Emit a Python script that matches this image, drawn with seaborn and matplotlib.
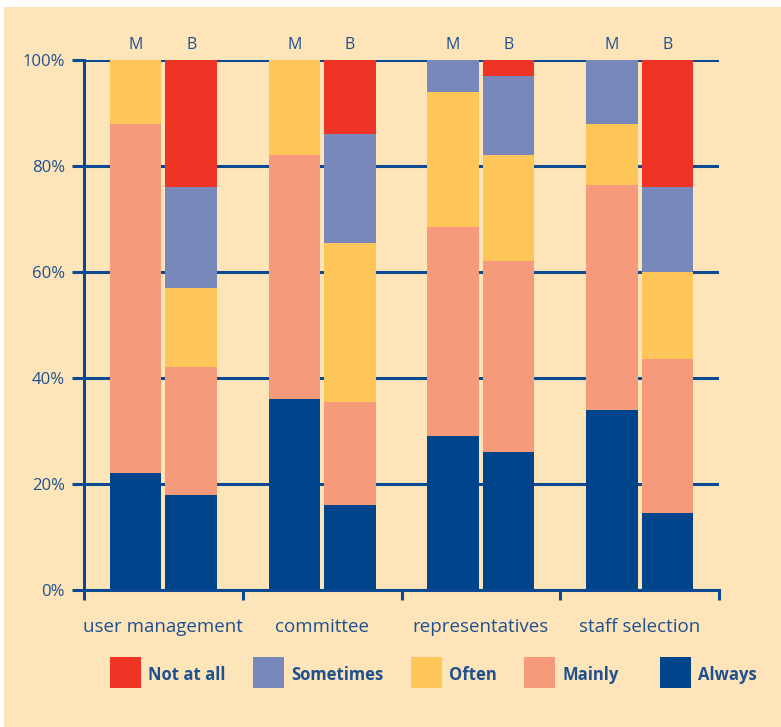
import numpy as np
import pandas as pd
import seaborn as sns
import matplotlib.pyplot as plt
from matplotlib.patches import Rectangle

# data (percent of respondents)
groups = ["user management", "committee", "representatives", "staff selection"]
measures = ["M", "B"]
categories = ["Always", "Mainly", "Often", "Sometimes", "Not at all"]

# one value per bar, order: (group, measure) -> um M, um B, com M, com B, ...
always = [22, 18, 36, 16, 29, 26, 34, 14.5]
mainly = [66, 24, 46, 19.5, 39.5, 36, 42.5, 29]
often = [12, 15, 18, 30, 25.5, 20, 11.5, 16.5]
sometimes = [0, 19, 0, 20.5, 6, 15, 12, 16]
not_at_all = [0, 24, 0, 14, 0, 3, 0, 24]

colors = {
    "Always": "#00458b",
    "Mainly": "#f59b7c",
    "Often": "#fec659",
    "Sometimes": "#7888ba",
    "Not at all": "#ef3325",
}
navy = "#0b4a92"
text_col = "#1f5090"
beige = "#fde5b9"

sns.set_style("white")
plt.rcParams["font.family"] = ["Open Sans", "DejaVu Sans"]

rows = []
for i, g in enumerate(groups):
    for j, m in enumerate(measures):
        k = i * 2 + j
        rows.append({"group": g, "measure": m,
                     "Always": always[k], "Mainly": mainly[k], "Often": often[k],
                     "Sometimes": sometimes[k], "Not at all": not_at_all[k]})
df = pd.DataFrame(rows)
# cumulative tops for stacking
cum = df[categories].cumsum(axis=1)
for c in categories:
    df["top_" + c] = cum[c]

fig = plt.figure(figsize=(7.81, 7.27), dpi=100)
fig.patch.set_facecolor("white")
fig.patches.append(Rectangle((4 / 781, 0), 1, 720 / 727, transform=fig.transFigure,
                             facecolor=beige, edgecolor="none", zorder=-10))
ax = fig.add_axes([84 / 781, 137 / 727, 635 / 781, 530 / 727])
ax.set_facecolor("none")

# draw from the top layer down so each lower segment covers the one above
for c in categories[::-1]:
    sns.barplot(data=df, x="group", y="top_" + c, hue="measure", order=groups,
                hue_order=measures, palette={"M": colors[c], "B": colors[c]},
                width=0.7, gap=0.07, saturation=1, linewidth=0, errorbar=None,
                legend=False, ax=ax)

ax.set_xlim(-0.5, 3.5)
ax.set_ylim(0, 100)
ax.set_xlabel("")
ax.set_ylabel("")

# axes styling
for s in ["top", "right"]:
    ax.spines[s].set_visible(False)
for s in ["left", "bottom"]:
    ax.spines[s].set_color(navy)
    ax.spines[s].set_linewidth(2.2)
ax.set_axisbelow(True)
ax.yaxis.grid(True, color=navy, linewidth=2.2)
ax.xaxis.grid(False)

ax.set_yticks([0, 20, 40, 60, 80, 100])
ax.set_yticklabels([f"{v}%" for v in [0, 20, 40, 60, 80, 100]])
ax.tick_params(axis="y", length=8.6, width=2.2, color=navy, pad=5,
               labelsize=12, labelcolor=text_col, left=True)

ax.set_xticks(range(len(groups)))
ax.set_xticklabels(groups)
ax.tick_params(axis="x", which="major", length=0, pad=20, labelsize=13.5,
               labelcolor=text_col)
ax.set_xticks([-0.5, 0.5, 1.5, 2.5, 3.5], minor=True)
ax.tick_params(axis="x", which="minor", length=7.5, width=2.2, color=navy,
               bottom=True, direction="out")

# M / B labels above bars
for i in range(len(groups)):
    for j, m in enumerate(measures):
        ax.text(i + (-0.175 if j == 0 else 0.175), 102.1, m, ha="center",
                va="baseline", fontsize=11.5, color=text_col, clip_on=False)

# legend, drawn manually in figure coordinates
leg_sq = [110, 253, 411, 524, 660]
leg_order = ["Not at all", "Sometimes", "Often", "Mainly", "Always"]
for x0, c in zip(leg_sq, leg_order):
    fig.patches.append(Rectangle((x0 / 781, 39 / 727), 31 / 781, 31 / 727,
                                 transform=fig.transFigure, facecolor=colors[c],
                                 edgecolor="none"))
    fig.text((x0 + 38) / 781, 47 / 727, c, ha="left", va="baseline",
             fontsize=12, fontweight="bold", color=text_col)

fig.savefig("out.png", dpi=100, facecolor=fig.get_facecolor())
